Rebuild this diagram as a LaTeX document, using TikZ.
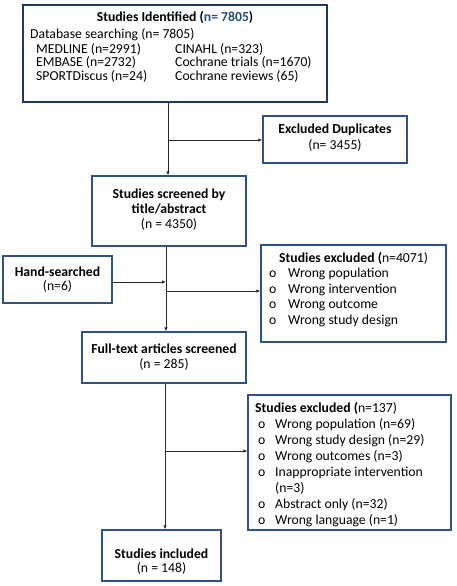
\documentclass[tikz,border=0pt]{standalone}
\usepackage{fontspec}
\setmainfont{Carlito}
\usetikzlibrary{arrows.meta}
\definecolor{boxblue}{RGB}{47,82,143}
\definecolor{boxnavy}{RGB}{32,56,100}
\definecolor{numblue}{RGB}{31,78,121}
\definecolor{linegray}{RGB}{40,40,40}
\begin{document}
\begin{tikzpicture}[x=1pt,y=-1pt,
  box/.style={draw=boxblue,line width=1.3pt,inner sep=0pt,rectangle},
  txt/.style={inner sep=0pt,font=\fontsize{13.7}{15}\selectfont,align=center,anchor=base},
  ltxt/.style={inner sep=0pt,font=\fontsize{13.7}{14}\selectfont,align=left,anchor=base west},
  conn/.style={draw=linegray,line width=0.8pt,-{Latex[length=4pt,width=3.5pt]}}]
\useasboundingbox (0,0) rectangle (456,586);
% boxes
\node[box,draw=boxnavy,line width=1.6pt,minimum width=304pt,minimum height=97pt] (ident) at (175,53.5) {};
\node[box,minimum width=144pt,minimum height=47pt] (dup) at (335,139.5) {};
\node[box,minimum width=154pt,minimum height=70pt] (screen) at (169,211) {};
\node[box,minimum width=109pt,minimum height=47pt] (hand) at (57.5,279.5) {};
\node[box,minimum width=185pt,minimum height=97pt] (excl1) at (353.5,293.5) {};
\node[box,minimum width=164pt,minimum height=51pt] (full) at (164,357.5) {};
\node[box,minimum width=203pt,minimum height=135pt] (excl2) at (349.5,462.5) {};
\node[box,minimum width=119pt,minimum height=51pt] (incl) at (161.5,555.5) {};
% texts (anchor base = baseline of the last line)
\node[txt] (identT) at (175,22) {\textbf{Studies Identified (\textcolor{numblue}{n= 7805})}};
\node[ltxt] (identDB) at (30,38) {Database searching (n= 7805)};
\node[ltxt] (identC1) at (36,81) {MEDLINE (n=2991)\\EMBASE (n=2732)\\SPORTDiscus (n=24)};
\node[ltxt] (identC2) at (175,81) {CINAHL (n=323)\\Cochrane trials (n=1670)\\Cochrane reviews (65)};
\node[txt,font=\fontsize{13.7}{16}\selectfont] (dupT) at (335,149) {\textbf{Excluded Duplicates}\\(n= 3455)};
\node[txt] (screenT) at (169,228) {\textbf{Studies screened by}\\\textbf{title/abstract}\\(n = 4350)};
\node[txt,font=\fontsize{13.7}{14}\selectfont] (handT) at (57.5,290) {\textbf{Hand-searched}\\(n=6)};
\node[ltxt] (excl1T) at (279,262) {\textbf{Studies excluded (}n=4071)};
\node[ltxt,font=\fontsize{13.7}{15.5}\selectfont] (excl1L) at (269,324)
  {\makebox[19pt][l]{o}Wrong population\\\makebox[19pt][l]{o}Wrong intervention\\\makebox[19pt][l]{o}Wrong outcome\\\makebox[19pt][l]{o}Wrong study design};
\node[txt] (fullT) at (164,368) {\textbf{Full-text articles screened}\\(n = 285)};
\node[ltxt] (excl2T) at (255,412) {\textbf{Studies excluded (}n=137)};
\node[ltxt,font=\fontsize{13.7}{16}\selectfont] (excl2L) at (258,524)
  {\makebox[17pt][l]{o}Wrong population (n=69)\\\makebox[17pt][l]{o}Wrong study design (n=29)\\\makebox[17pt][l]{o}Wrong outcomes (n=3)\\\makebox[17pt][l]{o}Inappropriate intervention\\\hspace*{17pt}(n=3)\\\makebox[17pt][l]{o}Abstract only (n=32)\\\makebox[17pt][l]{o}Wrong language (n=1)};
\node[txt,font=\fontsize{13.7}{14}\selectfont] (inclT) at (161.5,572) {\textbf{Studies included}\\(n = 148)};
% junctions
\coordinate (j1) at (168,140);
\coordinate (j2) at (166,282);
\coordinate (j3) at (166,291);
\coordinate (j4) at (165,451);
% connectors
\draw[conn] (ident.south -| j1) -- (screen.north -| j1);
\draw[conn] (j1) -- (j1 -| dup.west);
\draw[conn] (screen.south -| j2) -- (full.north -| j2);
\draw[conn] (j2 -| hand.east) -- (j2);
\draw[conn] (j3) -- (j3 -| excl1.west);
\draw[conn] (full.south -| j4) -- (incl.north -| j4);
\draw[conn] (j4) -- (j4 -| excl2.west);
\end{tikzpicture}
\end{document}
